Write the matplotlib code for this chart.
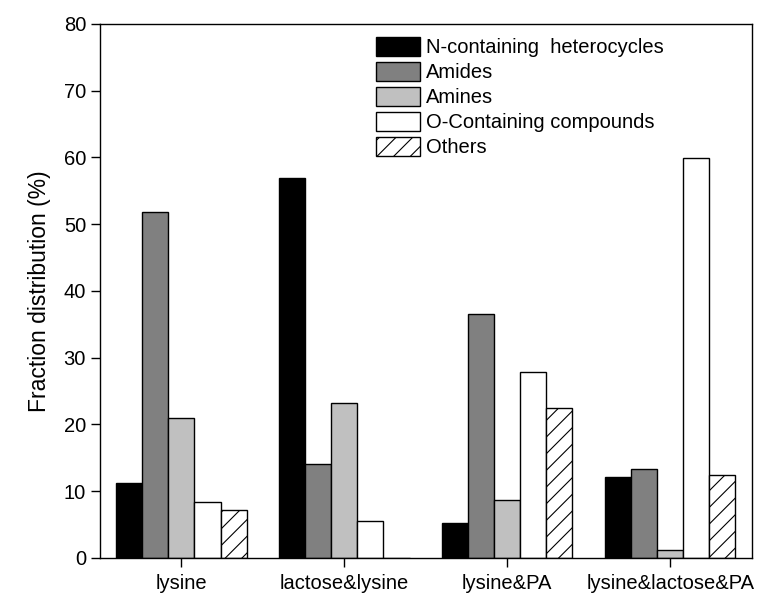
import numpy as np
import matplotlib
matplotlib.use('Agg')
import matplotlib.pyplot as plt

plt.rcParams['font.family'] = ['Liberation Sans', 'DejaVu Sans']
plt.rcParams['hatch.linewidth'] = 0.8

groups = ['lysine', 'lactose&lysine', 'lysine&PA', 'lysine&lactose&PA']
series = ['N-containing  heterocycles', 'Amides', 'Amines', 'O-Containing compounds', 'Others']
n_het = [11.2, 57.0, 5.2, 12.2]
amides = [51.9, 14.1, 36.5, 13.4]
amines = [20.9, 23.2, 8.7, 1.2]
o_comp = [8.4, 5.5, 27.9, 59.9]
others = [7.25, 0.0, 22.4, 12.5]

values = [n_het, amides, amines, o_comp, others]
colors = ['black', '#808080', '#c0c0c0', 'white', 'white']
hatches = [None, None, None, None, '//']

fig = plt.figure(figsize=(7.57, 5.95), dpi=100)
ax = fig.add_axes([0.132, 0.0622, 0.861, 0.8975])

x = np.arange(len(groups))
w = 0.16
for i, (vals, c, h) in enumerate(zip(values, colors, hatches)):
    ax.bar(x + (i - 2) * w, vals, w, color=c, edgecolor='black', linewidth=1.0,
           hatch=h, label=series[i])

ax.set_xlim(-0.5, 3.5)
ax.set_ylim(0, 80)
ax.set_xticks(x)
ax.set_xticklabels(groups, fontsize=14.5)
ax.set_yticks(np.arange(0, 81, 10))
ax.tick_params(axis='y', labelsize=14.5, direction='out', length=6.5, width=1)
ax.tick_params(axis='x', direction='out', length=6.5, width=1, pad=5)
for s in ax.spines.values():
    s.set_linewidth(1.0)

ax.set_ylabel('Fraction distribution (%)', fontsize=16.5, labelpad=9)

ax.legend(loc='upper left', bbox_to_anchor=(0.423, 0.976), frameon=False, fontsize=14.5,
          handlelength=2.19, handleheight=1.1, labelspacing=0.22, handletextpad=0.3,
          borderpad=0, borderaxespad=0)

fig.savefig('out.png', dpi=100)
